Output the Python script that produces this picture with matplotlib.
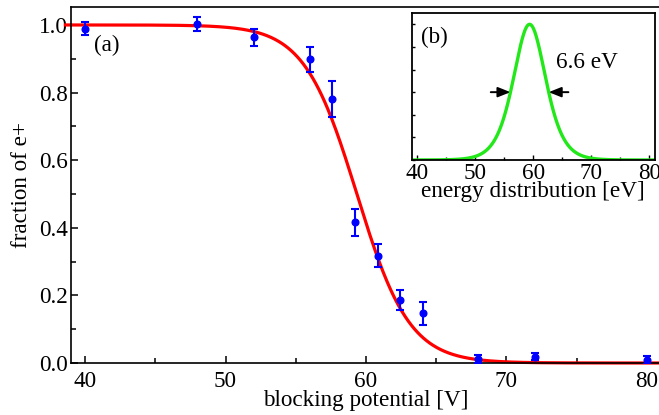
import numpy as np
import matplotlib
matplotlib.use("Agg")
import matplotlib.pyplot as plt
from matplotlib.ticker import MultipleLocator, FixedLocator

# measured data
voltage = [40.0, 48.0, 52.0, 56.0, 57.6, 59.2, 60.85, 62.45, 64.05, 68.0, 72.0, 80.0]
fraction = [0.989, 1.003, 0.963, 0.898, 0.780, 0.416, 0.318, 0.186, 0.147, 0.011, 0.019, 0.009]
frac_err = [0.020, 0.022, 0.024, 0.037, 0.053, 0.040, 0.033, 0.030, 0.034, 0.012, 0.010, 0.012]

# fit parameters (logistic step; inset is its derivative)
center = 59.35
fwhm = 6.6
scale = fwhm / 3.525

xticks = [40, 50, 60, 70, 80]
yticks = [0.0, 0.2, 0.4, 0.6, 0.8, 1.0]

plt.rcParams['font.family'] = ['Liberation Serif', 'DejaVu Serif']
plt.rcParams['font.size'] = 16.7

fig = plt.figure(figsize=(6.59, 4.15), dpi=100)
ax = fig.add_axes([71/659, 52/415, 590/659, 356.3/415])

xf = np.linspace(38.6, 82, 600)
yf = 1.0 / (1.0 + np.exp((xf - center) / scale))
ax.plot(xf, yf, color='#ff0000', lw=2.3, clip_on=False, zorder=2)
ax.errorbar(voltage, fraction, yerr=frac_err, fmt='o', color='#0000ff', ms=4.8,
            elinewidth=1.5, capsize=3, capthick=1.5, zorder=3)

ax.set_xlim(39.0, 81.0)
ax.set_ylim(0.0, 1.054)
ax.set_xticks(xticks)
ax.set_yticks(yticks)
ax.set_yticklabels([f"{v:.1f}" for v in yticks])
ax.xaxis.set_minor_locator(MultipleLocator(5))
ax.yaxis.set_minor_locator(MultipleLocator(0.1))
ax.tick_params(which='both', direction='in', top=False, right=False, width=1.1)
ax.tick_params(which='major', length=5)
ax.tick_params(axis='x', which='major', pad=6)
ax.tick_params(axis='y', which='major', pad=2)
ax.tick_params(which='minor', length=3.5)
for s in ax.spines.values():
    s.set_linewidth(1.2)
ax.set_xlabel('blocking potential [V]', labelpad=-1.8)
ax.set_ylabel('fraction of e+', labelpad=5)
ax.text(40.66, 0.94, '(a)', ha='left', va='center')

# inset
ins = fig.add_axes([411.7/659, 255/415, 243.3/659, 147.3/415])
xe = np.linspace(39.0, 81.0, 600)
u = np.exp((xe - center) / scale)
ye = 4 * u / (1 + u) ** 2
ins.plot(xe, ye, color='#22e81a', lw=2.4)
ins.set_xlim(39.0, 81.0)
ins.set_ylim(0.0, 1.0855)
ins.set_xticks(xticks)
ins.xaxis.set_minor_locator(MultipleLocator(5))
ins.yaxis.set_major_locator(FixedLocator([k / 6 for k in range(7)]))
ins.set_yticklabels([])
ins.tick_params(which='both', direction='in', top=False, right=False, width=1.0)
ins.tick_params(which='major', length=3.5, pad=2.5)
ins.tick_params(axis='y', length=2.5)
ins.tick_params(which='minor', length=2.5)
for s in ins.spines.values():
    s.set_linewidth(1.3)
ins.set_xlabel('energy distribution [eV]', labelpad=-2.5)
ins.text(40.6, 0.835, '(b)', transform=ins.get_xaxis_transform(), ha='left', va='center')
ins.text(63.9, 0.66, '6.6 eV', transform=ins.get_xaxis_transform(), ha='left', va='center')
lo = center - fwhm / 2
hi = center + fwhm / 2
arrow = dict(arrowstyle='-|>,head_length=0.45,head_width=0.18', color='black', lw=1.4,
             shrinkA=0, shrinkB=0)
ins.annotate('', xy=(lo, 0.5), xytext=(lo - 3.4, 0.5), arrowprops=arrow)
ins.annotate('', xy=(hi, 0.5), xytext=(hi + 3.4, 0.5), arrowprops=arrow)

fig.savefig('out.png', dpi=100)
